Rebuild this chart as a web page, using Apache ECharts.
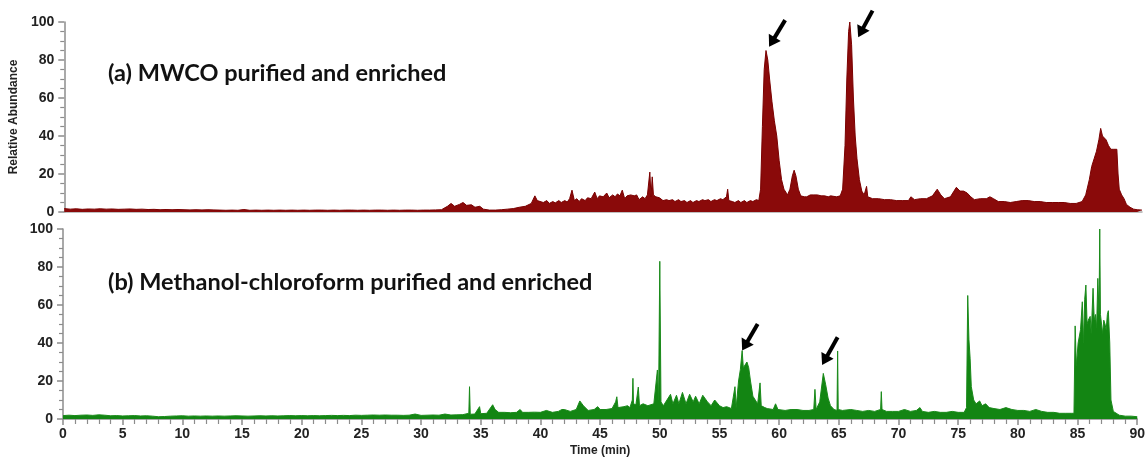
<!DOCTYPE html>
<html><head><meta charset="utf-8">
<script src="https://cdn.jsdelivr.net/npm/echarts@6/dist/echarts.min.js"></script>
<style>html,body{margin:0;padding:0;background:#fff}#c{width:1148px;height:458px}</style>
</head><body><div id="c"></div>
<script>
// (a) MWCO purified and enriched : [time (min), relative abundance]
const seriesA = [[0,1.8],[0.5,1.5],[1,1.7],[1.5,1.4],[2,1.6],[2.5,1.5],[3,1.7],[3.5,1.5],[4,1.6],[4.5,1.4],[5,1.5],[5.5,1.6],[6,1.4],[6.5,1.5],[7,1.3],[7.5,1.4],[8,1.2],[8.5,1.3],[9,1.2],[9.5,1.3],[10,1.2],[10.5,1.1],[11,1.2],[11.5,1.1],[12,1.2],[12.5,1.1],[13,1.0],[13.5,0.9],[14,1.0],[14.5,0.9],[15,1.3],[15.5,0.9],[16,1.0],[16.5,0.9],[17,1.0],[17.5,0.9],[18,1.0],[18.5,0.9],[19,1.0],[19.5,0.9],[20,1.0],[20.5,0.9],[21,1.0],[21.5,1.0],[22,0.9],[22.5,1.0],[23,0.9],[23.5,1.0],[24,1.0],[24.5,0.9],[25,1.0],[25.5,0.9],[26,1.0],[26.5,1.0],[27,0.9],[27.5,1.0],[28,0.9],[28.5,1.0],[29,1.0],[29.5,0.9],[30,1.0],[30.5,1.0],[31,1.1],[31.5,1.2],[32,3],[32.3,4.5],[32.6,3],[33,4],[33.3,5],[33.6,3.5],[34,3.8],[34.3,2.5],[34.7,3],[35,1.5],[35.5,1],[36,1],[36.5,1.2],[37,1.5],[37.5,1.8],[38,2.5],[38.5,3],[39,4.5],[39.3,8.5],[39.5,6],[40,5],[40.3,6],[40.5,4.5],[40.8,5.5],[41,4.8],[41.3,6],[41.5,5],[41.8,6],[42,5.2],[42.2,7],[42.4,11.5],[42.6,6],[42.8,7],[43,5.5],[43.2,7],[43.5,6],[43.7,7.5],[44,7],[44.3,10.5],[44.5,7],[44.7,8.5],[45,8],[45.3,10],[45.5,7.5],[45.8,9],[46,8],[46.2,9.5],[46.4,8.5],[46.6,11.5],[46.8,7],[47,8.5],[47.3,9],[47.45,9.5],[47.6,8.5],[47.8,9],[48,6.5],[48.3,8],[48.5,7],[48.7,9],[48.8,10],[48.9,21],[49.0,8],[49.1,18.5],[49.2,9],[49.4,8],[49.5,7],[49.7,7.5],[50,6],[50.3,6.5],[50.5,6],[50.8,6.5],[51,5.5],[51.3,6.5],[51.5,5.5],[51.8,6],[52,5],[52.3,6],[52.5,5],[52.8,6],[53,5.5],[53.3,6.5],[53.5,6],[53.8,6.5],[54,5.5],[54.3,6.5],[54.5,6],[54.8,7],[55,6.5],[55.3,8],[55.4,12],[55.5,6],[55.8,5.5],[56,5],[56.3,6],[56.5,5],[56.8,6],[57,5],[57.3,6],[57.5,5.5],[57.8,6.5],[58,6],[58.15,12],[58.3,45],[58.45,75],[58.6,85],[58.75,80],[58.9,70],[59.1,58],[59.3,48],[59.5,40],[59.7,27],[59.9,17],[60.1,12],[60.4,9],[60.6,12],[60.8,19],[60.95,22],[61.1,19],[61.3,12],[61.5,8.5],[61.8,8],[62,8],[62.3,9],[62.6,9],[62.9,9],[63.2,8.5],[63.5,8.5],[63.8,8],[64,8.5],[64.5,8],[64.8,8.5],[65.0,12],[65.2,35],[65.35,70],[65.5,95],[65.6,100],[65.75,88],[65.9,60],[66.05,40],[66.2,28],[66.4,17],[66.6,11],[66.8,9],[67.0,13.5],[67.1,8],[67.5,7],[68,7],[68.5,6.5],[69,6.5],[69.5,6],[70,6],[70.5,6],[70.7,8],[71,6.5],[71.5,7],[72,7],[72.5,8.5],[72.9,12],[73.2,9],[73.5,7],[74,8],[74.3,11],[74.5,13],[74.8,11],[75.1,11],[75.4,10],[75.7,8],[76,6.5],[76.5,7],[77,7],[77.3,8],[77.6,7],[78,5.5],[78.5,5.5],[79,5],[79.5,5.5],[80,6],[80.5,6],[81,5.5],[81.5,5.5],[82,5],[82.5,5],[83,5],[83.5,5],[84,4.5],[84.5,4.5],[85,5.5],[85.3,9],[85.6,17],[85.8,24],[86.0,28],[86.2,32],[86.4,38],[86.55,44],[86.7,40],[86.85,39],[87.0,38],[87.2,35],[87.4,33],[87.6,33],[87.9,33],[88.0,20],[88.1,12],[88.3,9],[88.5,7],[88.7,4],[89,2.5],[89.3,1.5],[89.6,1.2],[90,1]];

// (b) Methanol-chloroform purified and enriched : [time (min), relative abundance]
const seriesB = [[0,1.8],[0.5,2],[1,1.8],[1.5,2],[2,2.1],[2.5,1.9],[3,2.2],[3.5,2],[4,1.7],[4.5,1.8],[5,1.6],[5.5,1.7],[6,1.8],[6.5,1.6],[7,1.7],[7.5,1.5],[8,1.2],[8.5,1.3],[9,1.5],[9.5,1.6],[10,1.7],[10.5,1.5],[11,1.6],[11.5,1.5],[12,1.6],[12.5,1.5],[13,1.6],[13.5,1.5],[14,1.6],[14.5,1.7],[15,1.6],[15.5,1.5],[16,1.6],[16.5,1.7],[17,1.6],[17.5,1.7],[18,1.6],[18.5,1.7],[19,1.8],[19.5,1.7],[20,1.8],[20.5,1.7],[21,1.8],[21.5,1.7],[22,1.8],[22.5,1.9],[23,1.8],[23.5,1.9],[24,1.8],[24.5,2],[25,1.9],[25.5,2],[26,2.1],[26.5,2],[27,2.1],[27.5,2],[28,2],[28.5,1.9],[29,2],[29.5,2.6],[30,1.9],[30.5,2],[31,2.1],[31.5,2],[32,2.6],[32.5,2.1],[33,2.2],[33.5,2.3],[34,3],[34.06,17],[34.12,2.5],[34.5,2.6],[34.9,6.5],[35,2.8],[35.5,3],[36,7.5],[36.2,5],[36.5,3.5],[37,3.5],[37.5,3.3],[38,3.5],[38.3,5],[38.5,3.5],[39,3.5],[39.5,3.6],[40,3.5],[40.5,4.5],[41,3.5],[41.5,4],[41.8,5],[42,5],[42.5,4],[43,5],[43.3,9.5],[43.6,7],[44,4.5],[44.5,5],[44.8,6.5],[45,5],[45.5,5],[46,5.5],[46.3,9],[46.4,11.7],[46.5,6],[47,6.5],[47.3,7],[47.5,6],[47.7,10],[47.75,21.4],[47.8,8],[48,7.5],[48.2,16.8],[48.3,7],[48.6,8],[49,7],[49.5,8],[49.8,25.8],[49.9,10],[50.0,83],[50.1,9],[50.3,7],[50.6,10],[50.9,13],[51.1,8],[51.4,12.5],[51.6,8],[51.9,14],[52.2,8],[52.5,13],[52.8,9],[53,12],[53.3,8],[53.6,12.5],[54,9],[54.3,7],[54.6,10],[55,7],[55.3,6],[55.6,6.5],[56,5.5],[56.3,17],[56.4,6],[56.6,20],[56.75,26],[56.9,36],[57.0,27],[57.15,26],[57.3,30],[57.45,27],[57.6,20],[57.8,12],[58,10],[58.2,8],[58.4,19],[58.5,7],[58.8,6],[59,5.5],[59.5,5],[59.7,8],[59.9,5],[60.5,4.5],[61,5],[61.5,5],[62,4.5],[62.5,4.5],[62.9,5],[63.0,15.6],[63.1,5],[63.4,9],[63.7,24],[63.9,18],[64.1,11],[64.3,7],[64.6,5],[64.85,4.5],[64.9,35.8],[64.95,5],[65.3,4.5],[66,5],[66.5,4.5],[67,4],[67.5,4.5],[68,4],[68.5,5],[68.56,14.4],[68.62,5],[69,4],[69.5,4],[70,4],[70.5,5],[71,4],[71.5,4.5],[71.8,6],[72,4],[72.5,3.5],[73,4],[73.5,3.5],[74,3.5],[74.5,4],[75,3.5],[75.5,3.5],[75.7,6],[75.8,65],[75.9,42],[76.0,32],[76.1,17],[76.3,10],[76.5,8],[76.8,9.5],[77,7],[77.3,8],[77.6,6],[78,5.5],[78.5,5],[79,6],[79.5,5],[80,4.5],[80.5,4.5],[81,4],[81.5,5],[82,4],[82.5,3.5],[83,3.5],[83.5,3],[84,3],[84.5,3],[84.7,3],[84.8,49],[84.9,28],[85.05,40],[85.25,47],[85.4,61.7],[85.5,40],[85.6,63],[85.7,70.5],[85.8,50],[85.9,52],[86.06,54],[86.15,45],[86.3,68.8],[86.4,52],[86.5,55],[86.6,48],[86.7,74],[86.8,55],[86.86,100],[86.92,55],[87.0,54],[87.1,45],[87.2,52],[87.3,50],[87.4,47],[87.5,55],[87.58,57],[87.7,40],[87.8,10],[88.0,4],[88.1,3],[88.5,2],[89,1.5],[89.5,1.5],[90,1.2]];

// Arrow annotations [tail, head] in data units
const arrowsA = [[[60.2,101],[58.86,87]],[[67.5,106],[66.3,92]]];
const arrowsB = [[[58.2,50],[56.9,36]],[[64.9,43],[63.6,28.4]]];

const labelA = '(a) MWCO purified and enriched';
const labelB = '(b) Methanol-chloroform purified and enriched';

const chart = echarts.init(document.getElementById('c'), null, {renderer:'canvas'});
const axisGrey = '#8c8c8c';
const lblFont = {fontFamily:'Liberation Sans, Arial', fontWeight:'bold', fontSize:14, color:'#222'};

function yAx(idx, withName){
  return {
    type:'value', gridIndex:idx, min:0, max:100, interval:20,
    axisLine:{show:true, lineStyle:{color:axisGrey, width:1.5}},
    axisTick:{show:true, length:6, lineStyle:{color:axisGrey, width:1.5}},
    minorTick:{show:true, splitNumber:4, length:4, lineStyle:{color:axisGrey, width:1.2}},
    splitLine:{show:false},
    axisLabel:Object.assign({margin:10}, lblFont),
    name: withName ? 'Relative Abundance' : '',
    nameLocation:'middle', nameGap:30,
    nameTextStyle:{fontFamily:'Liberation Sans, Arial', fontWeight:'bold', fontSize:12, color:'#222', padding:[0,0,8,0]}
  };
}

const option = {
  animation:false,
  backgroundColor:'#fff',
  grid:[
    {left:63, right:6, top:22, height:190},
    {left:63, right:6, top:229, height:190}
  ],
  xAxis:[
    {type:'value', gridIndex:0, min:0, max:90, interval:5,
     axisLine:{show:true, onZero:false, lineStyle:{color:'#aaa', width:1.5}},
     axisTick:{show:false}, axisLabel:{show:false}, splitLine:{show:false}},
    {type:'value', gridIndex:1, min:0, max:90, interval:5,
     axisLine:{show:true, onZero:false, lineStyle:{color:axisGrey, width:1.5}},
     axisTick:{show:true, length:6, lineStyle:{color:axisGrey, width:1.5}},
     minorTick:{show:true, splitNumber:5, length:5, lineStyle:{color:axisGrey, width:1.2}},
     splitLine:{show:false},
     axisLabel:Object.assign({margin:8}, lblFont),
     name:'Time (min)', nameLocation:'middle', nameGap:26,
     nameTextStyle:{fontFamily:'Liberation Sans, Arial', fontWeight:'bold', fontSize:12, color:'#222'}}
  ],
  yAxis:[yAx(0,true), yAx(1,false)],
  series:[
    {type:'line', xAxisIndex:0, yAxisIndex:0, data:seriesA, symbol:'none', smooth:false,
     lineStyle:{color:'#7a0000', width:1}, areaStyle:{color:'#8a0a0a', opacity:1}, z:2},
    {type:'line', xAxisIndex:1, yAxisIndex:1, data:seriesB, symbol:'none', smooth:false,
     lineStyle:{color:'#1a8a1a', width:1}, areaStyle:{color:'#138513', opacity:1}, z:2}
  ],
  graphic:[
    {type:'text', left:108, top:61, style:{text:labelA, font:'bold 23.5px Lato, "Open Sans", sans-serif', fill:'#111'}},
    {type:'text', left:108, top:270, style:{text:labelB, font:'bold 23.5px Lato, "Open Sans", sans-serif', fill:'#111'}}
  ]
};
chart.setOption(option);

function arrowGraphics(list, gi){
  const out = [];
  list.forEach(function(a){
    const p0 = chart.convertToPixel({xAxisIndex:gi, yAxisIndex:gi}, a[0]);
    const p1 = chart.convertToPixel({xAxisIndex:gi, yAxisIndex:gi}, a[1]);
    const dx = p1[0]-p0[0], dy = p1[1]-p0[1];
    const L = Math.sqrt(dx*dx+dy*dy), ux = dx/L, uy = dy/L;
    const hl = 11, hw = 7;
    const bx = p1[0]-ux*hl, by = p1[1]-uy*hl;
    out.push({type:'line', shape:{x1:p0[0], y1:p0[1], x2:bx+ux*1, y2:by+uy*1}, style:{stroke:'#000', lineWidth:4}, z:10});
    out.push({type:'polygon', shape:{points:[[p1[0],p1[1]],[bx-uy*hw,by+ux*hw],[bx+uy*hw,by-ux*hw]]}, style:{fill:'#000'}, z:10});
  });
  return out;
}
const extra = arrowGraphics(arrowsA,0).concat(arrowGraphics(arrowsB,1));
chart.setOption({graphic: option.graphic.concat(extra)});
</script></body></html>
